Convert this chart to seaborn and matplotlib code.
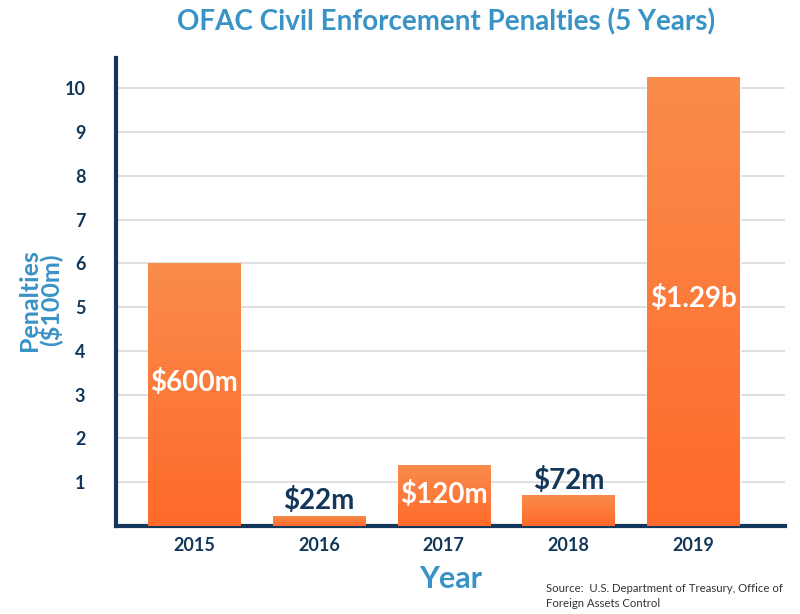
import numpy as np
import pandas as pd
import matplotlib
matplotlib.use("Agg")
import matplotlib.pyplot as plt
from matplotlib.colors import LinearSegmentedColormap
import seaborn as sns

# data (penalties in $100m)
years = ["2015", "2016", "2017", "2018", "2019"]
penalties = [6.0, 0.22, 1.39, 0.71, 10.25]
labels = ["$600m", "$22m", "$120m", "$72m", "$1.29b"]
label_pos = [3.27, 0.58, 0.72, 1.04, 5.2]
label_inside = [True, False, True, False, True]

df = pd.DataFrame({"Year": years, "Penalties": penalties})

blue = "#3A93C6"
navy = "#12375A"
sns.set_style("white")
plt.rcParams["font.family"] = ["Lato", "DejaVu Sans"]

fig = plt.figure(figsize=(8, 6.14), dpi=100)
ax = fig.add_axes([0.145, 0.1433, 0.836, 0.7622])

sns.barplot(data=df, x="Year", y="Penalties", ax=ax, color="#FF6B2C",
            width=0.74, saturation=1, zorder=2)

# gradient fill per bar
grad = LinearSegmentedColormap.from_list("og", ["#FF6A2A", "#F98C4C"])
img = np.linspace(0, 1, 256).reshape(-1, 1)
for p in ax.patches:
    x0, y0 = p.get_x(), p.get_y()
    w, h = p.get_width(), p.get_height()
    im = ax.imshow(img, cmap=grad, origin="lower", aspect="auto",
                   extent=[x0, x0 + w, y0, y0 + h], zorder=3)
    im.set_clip_path(p)

ax.set_xlim(-0.624, 4.73)
ax.set_ylim(0, 10.69)
ax.set_yticks(range(1, 11))
ax.yaxis.grid(True, color="#D9D9D9", linewidth=1.2, zorder=0)
ax.set_axisbelow(True)

for s in ["top", "right"]:
    ax.spines[s].set_visible(False)
for s in ["left", "bottom"]:
    ax.spines[s].set_color(navy)
    ax.spines[s].set_linewidth(3)

ax.tick_params(axis="both", length=0, labelcolor=navy, labelsize=13)
ax.tick_params(axis="y", pad=22)
ax.tick_params(axis="x", pad=8)
for t in ax.get_xticklabels() + ax.get_yticklabels():
    t.set_fontweight("bold")

ax.set_xlabel("Year", fontsize=22, fontweight="bold", color=blue, labelpad=8)
ax.set_ylabel("Penalties\n($100m)", fontsize=18, fontweight="bold", color=blue,
              linespacing=0.85)
ax.yaxis.set_label_coords(-0.08, 0.483)

for i, (lab, y, inside) in enumerate(zip(labels, label_pos, label_inside)):
    ax.text(i, y, lab, ha="center", va="center", fontsize=20, fontweight="bold",
            color="white" if inside else navy, zorder=5)

fig.text(0.557, 0.964, "OFAC Civil Enforcement Penalties (5 Years)", ha="center",
         va="center", fontsize=20, fontweight="bold", color=blue)
fig.text(0.682, 0.029, "Source:  U.S. Department of Treasury, Office of\nForeign Assets Control",
         ha="left", va="center", fontsize=8.2, color="#333333", linespacing=1.5)

fig.savefig("out.png", dpi=100, facecolor="w")
